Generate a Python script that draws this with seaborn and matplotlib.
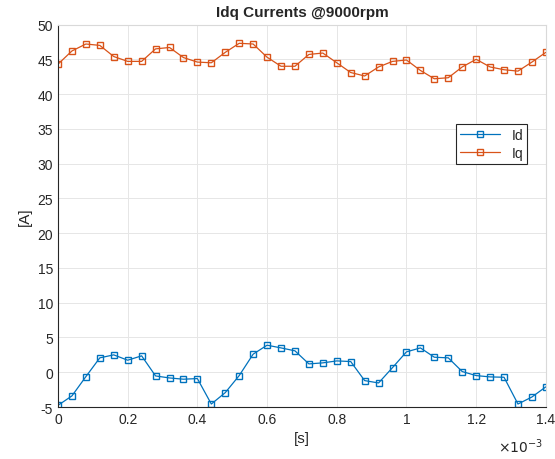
import numpy as np
import pandas as pd
import seaborn as sns
import matplotlib
matplotlib.use('Agg')
import matplotlib.pyplot as plt
from matplotlib.ticker import FuncFormatter, MultipleLocator

# 采样时刻 (s)
t = np.arange(36) * 0.04e-3

id_vals = [-4.76, -3.4, -0.63, 2.07, 2.5, 1.73, 2.36, -0.53, -0.82, -1.0,
           -0.91, -4.57, -2.93, -0.48, 2.6, 3.89, 3.5, 3.08, 1.2, 1.35,
           1.63, 1.54, -1.2, -1.54, 0.67, 2.93, 3.5, 2.16, 2.07, 0.1,
           -0.48, -0.67, -0.72, -4.57, -3.56, -2.1]
iq_vals = [44.3, 46.2, 47.2, 47.0, 45.4, 44.7, 44.7, 46.5, 46.7, 45.25,
           44.6, 44.5, 46.0, 47.3, 47.2, 45.3, 44.0, 44.0, 45.7, 45.9,
           44.5, 43.1, 42.6, 43.9, 44.7, 44.9, 43.4, 42.2, 42.35, 43.9,
           45.0, 43.9, 43.5, 43.3, 44.6, 46.0]

df = pd.concat([
    pd.DataFrame({'t': t, 'I': id_vals, 'sig': 'Id'}),
    pd.DataFrame({'t': t, 'I': iq_vals, 'sig': 'Iq'}),
])

sns.set_style('white')
plt.rcParams['font.family'] = ['Liberation Sans', 'DejaVu Sans']
plt.rcParams['axes.unicode_minus'] = False

fig = plt.figure(figsize=(5.55, 4.6), dpi=100)
ax = fig.add_axes([0.1045, 0.113, 0.879, 0.8315])

ax.grid(True, color='#e6e6e6', linewidth=0.7)
ax.set_axisbelow(True)

sns.lineplot(data=df, x='t', y='I', hue='sig',
             palette={'Id': '#0072BD', 'Iq': '#D95319'},
             marker='s', markersize=5, markerfacecolor='none', markeredgewidth=1.0,
             linewidth=0.9, ax=ax)
# seaborn 默认白色描边, 改回线条颜色
for ln in ax.lines:
    ln.set_markeredgecolor(ln.get_color())

ax.set_xlim(0, 1.4e-3)
ax.set_ylim(-5, 50)
ax.xaxis.set_major_locator(MultipleLocator(0.2e-3))
ax.yaxis.set_major_locator(MultipleLocator(5))
ax.xaxis.set_major_formatter(FuncFormatter(lambda v, p: f'{v * 1e3:g}'))
ax.tick_params(direction='in', length=4, width=0.8, labelsize=10, colors='#262626')
ax.tick_params(top=False, right=False)

for s in ['left', 'bottom']:
    ax.spines[s].set_color('#262626')
    ax.spines[s].set_linewidth(0.8)
for s in ['top', 'right']:
    ax.spines[s].set_color('#d9d9d9')
    ax.spines[s].set_linewidth(0.8)

ax.set_xlabel('[s]', fontsize=11, color='#262626')
ax.set_ylabel('[A]', fontsize=11, color='#262626')
ax.set_title('Idq Currents @9000rpm', fontsize=11, fontweight='bold', pad=6)
ax.text(0.994, -0.078, r'$\times10^{-3}$', transform=ax.transAxes,
        ha='right', va='top', fontsize=10, color='#262626')

leg = ax.legend(loc='upper right', bbox_to_anchor=(0.962, 0.74), borderaxespad=0,
                fontsize=10, fancybox=False, framealpha=1, edgecolor='#262626',
                handlelength=2.9, borderpad=0.3, labelspacing=0.3)
leg.get_frame().set_linewidth(0.8)
for h in leg.legend_handles:
    h.set_markeredgecolor(h.get_color())

plt.savefig('out.png', dpi=100)
